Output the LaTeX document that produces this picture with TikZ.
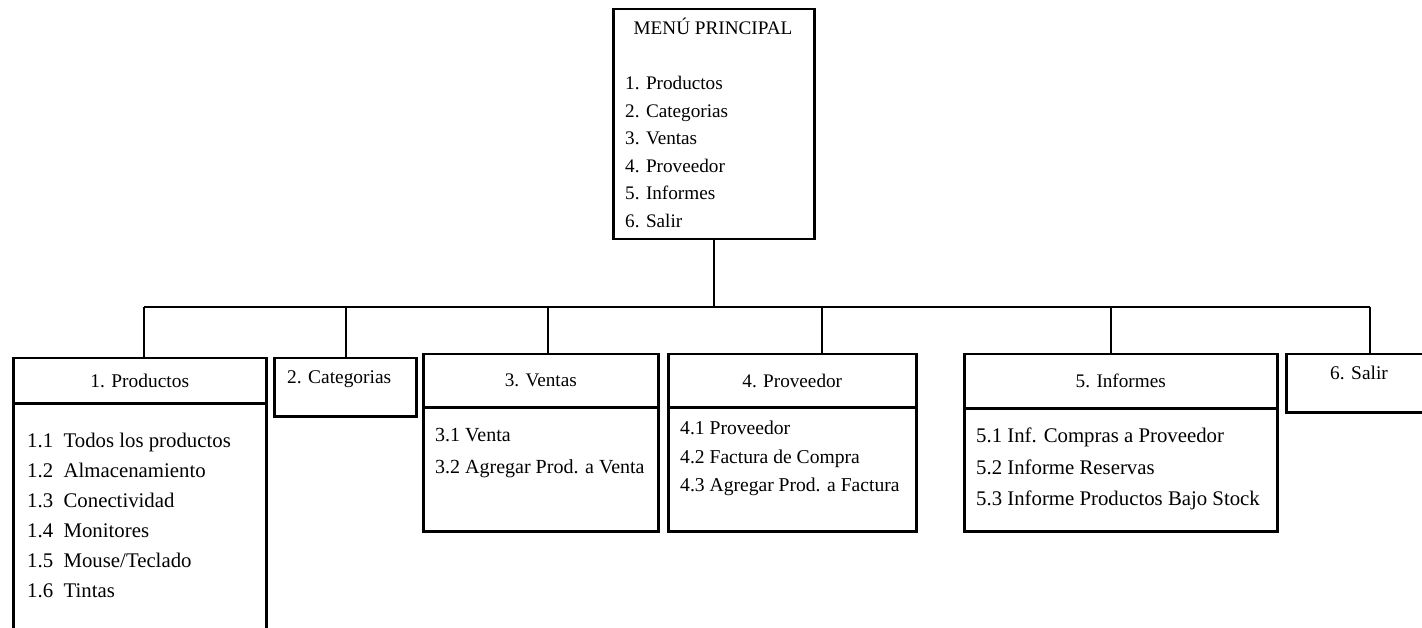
\documentclass[tikz,border=0pt]{standalone}
\usepackage{fontspec}
\setmainfont{Liberation Serif}
\begin{document}
\begin{tikzpicture}[x=1pt,y=-1pt,
  box/.style={draw,line width=2.5pt,rectangle,inner sep=0pt,anchor=north west,font=\fontsize{20.8}{30}\selectfont},
  wire/.style={line width=2.5pt},
  thinwire/.style={line width=1.5pt},
  txt/.style={inner sep=0pt,font=\fontsize{20.8}{30}\selectfont},
  list/.style={txt,anchor=north west,align=left}]
\useasboundingbox (0,0) rectangle (1422,628);
% main menu
\node[box, minimum width=201pt, minimum height=230pt] (main) at (612,8) {};
\node[txt, anchor=base, font=\fontsize{19.2}{27.5}\selectfont] (title) at (713,35) {MENÚ PRINCIPAL};
\node[list, font=\fontsize{19.2}{27.5}\selectfont] (mitems) at (625,76) {1. Productos\\2. Categorias\\3. Ventas\\4. Proveedor\\5. Informes\\6. Salir};
% 1 Productos
\node[box, minimum width=253pt, minimum height=45pt, font=\fontsize{19.4}{30}\selectfont] (phead) at (12,357) {1. Productos};
\node[box, minimum width=253pt, minimum height=270pt] (pbody) at (12,402) {};
\node[list, font=\fontsize{20.8}{30}\selectfont] (pitems) at (27,433) {1.1\enspace Todos los productos\\1.2\enspace Almacenamiento\\1.3\enspace Conectividad\\1.4\enspace Monitores\\1.5\enspace Mouse/Teclado\\1.6\enspace Tintas};
% 2 Categorias
\node[box, minimum width=142pt, minimum height=58pt] (cbox) at (273,357) {};
\node[txt, anchor=base west, font=\fontsize{19.4}{30}\selectfont] (ctext) at (287,384) {2. Categorias};
% 3 Ventas
\node[box, minimum width=235pt, minimum height=53pt, font=\fontsize{19.2}{30}\selectfont] (vhead) at (422,353) {3. Ventas};
\node[box, minimum width=235pt, minimum height=124pt] (vbody) at (422,406) {};
\node[list, font=\fontsize{20}{32}\selectfont] (vitems) at (435,428) {3.1 Venta\\3.2 Agregar Prod. a Venta};
% 4 Proveedor
\node[box, minimum width=248pt, minimum height=53pt, font=\fontsize{19.2}{30}\selectfont] (rhead) at (667,353) {4. Proveedor};
\node[box, minimum width=248pt, minimum height=124pt] (rbody) at (667,406) {};
\node[list, font=\fontsize{19.6}{28.5}\selectfont] (ritems) at (680,421) {4.1 Proveedor\\4.2 Factura de Compra\\4.3 Agregar Prod. a Factura};
% 5 Informes
\node[box, minimum width=313pt, minimum height=54pt, font=\fontsize{19.2}{30}\selectfont] (ihead) at (963,353) {5. Informes};
\node[box, minimum width=313pt, minimum height=123pt] (ibody) at (963,407) {};
\node[list, font=\fontsize{20.8}{31.5}\selectfont] (iitems) at (976,428) {5.1 Inf. Compras a Proveedor\\5.2 Informe Reservas\\5.3 Informe Productos Bajo Stock};
% 6 Salir
\node[box, minimum width=150pt, minimum height=58pt] (sbox) at (1285,353) {};
\node[txt, anchor=base west, font=\fontsize{19.4}{30}\selectfont] (stext) at (1330,380) {6. Salir};
% connectors
\coordinate (d1) at (144,307);
\coordinate (d2) at (346,307);
\coordinate (d3) at (548,307);
\coordinate (d4) at (822,307);
\coordinate (d5) at (1111,307);
\coordinate (d6) at (1370,307);
\draw[thinwire] (main.south) -- (main.south |- d1);
\draw[wire] (d1) -- (d6);
\draw[wire] (d1) -- (d1 |- phead.north);
\draw[wire] (d2) -- (d2 |- cbox.north);
\draw[wire] (d3) -- (d3 |- vhead.north);
\draw[wire] (d4) -- (d4 |- rhead.north);
\draw[wire] (d5) -- (d5 |- ihead.north);
\draw[wire] (d6) -- (d6 |- sbox.north);
\end{tikzpicture}
\end{document}
